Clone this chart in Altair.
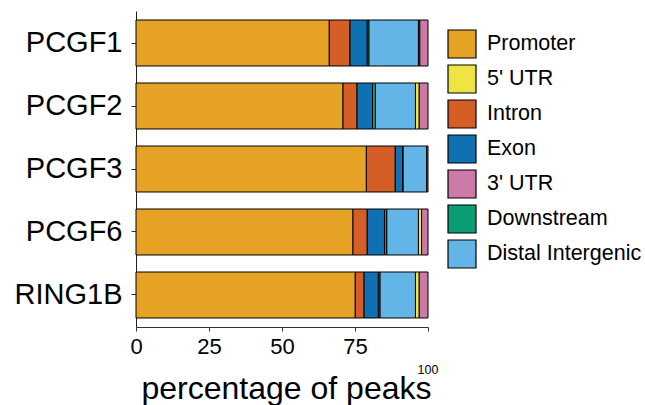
import altair as alt
import pandas as pd

proteins = ["PCGF1", "PCGF2", "PCGF3", "PCGF6", "RING1B"]
features = ["Promoter", "5' UTR", "Intron", "Exon", "3' UTR", "Downstream", "Distal Intergenic"]
colors = ["#E6A225", "#F0E442", "#D55E26", "#0F70B2", "#CC79A7", "#0A9E74", "#63B5E8"]
stack_order = ["Promoter", "Intron", "Exon", "Downstream", "Distal Intergenic", "5' UTR", "3' UTR"]

promoter = [66.2, 70.9, 78.9, 74.3, 75.1]
utr5 = [0.5, 1.3, 0.1, 1.1, 1.3]
intron = [7.1, 4.8, 9.9, 4.9, 3.0]
exon = [5.9, 5.3, 2.5, 5.9, 4.9]
utr3 = [2.8, 3.0, 0.4, 2.2, 3.0]
downstream = [0.6, 1.0, 0.2, 0.8, 0.6]
distal = [16.9, 13.7, 8.0, 10.8, 12.1]

x_ticks = [0, 25, 50, 75, 100]

series = {
    "Promoter": promoter,
    "5' UTR": utr5,
    "Intron": intron,
    "Exon": exon,
    "3' UTR": utr3,
    "Downstream": downstream,
    "Distal Intergenic": distal,
}

rows = []
for f, vals in series.items():
    for p, v in zip(proteins, vals):
        rows.append({"protein": p, "feature": f, "value": v, "ord": stack_order.index(f)})
df = pd.DataFrame(rows)

bars = alt.Chart(df).mark_bar(stroke="black", strokeWidth=1).encode(
    x=alt.X(
        "value:Q",
        stack="zero",
        scale=alt.Scale(domain=[0, 100], nice=False, zero=True),
        axis=alt.Axis(
            values=x_ticks,
            labelExpr="datum.value == 100 ? '' : datum.label",
            title="percentage of peaks",
            titleFontSize=32,
            titleFontWeight="normal",
            titleColor="black",
            titleBaseline="alphabetic",
            titleAnchor="middle",
            titleY=71,
            titleX=150,
            labelFontSize=22,
            labelColor="black",
            labelBaseline="alphabetic",
            labelPadding=22,
            tickSize=4,
            tickColor="#333333",
            domainColor="#333333",
            grid=False,
            labelFlush=False,
        ),
    ),
    y=alt.Y(
        "protein:N",
        sort=proteins,
        scale=alt.Scale(paddingInner=0.27, paddingOuter=0.143),
        axis=alt.Axis(
            title=None,
            labelFontSize=29,
            labelColor="black",
            labelPadding=9,
            tickSize=5,
            tickColor="#333333",
            domainColor="#222222",
        ),
    ),
    color=alt.Color(
        "feature:N",
        scale=alt.Scale(domain=features, range=colors),
        legend=alt.Legend(
            title=None,
            orient="none",
            legendX=311,
            legendY=18,
            symbolType="square",
            symbolSize=784,
            symbolStrokeColor="black",
            symbolStrokeWidth=1.2,
            symbolOpacity=1,
            labelFontSize=21.5,
            labelColor="black",
            labelOffset=10,
            rowPadding=1,
            padding=0,
            labelLimit=300,
        ),
    ),
    order=alt.Order("ord:Q"),
)

label100 = alt.Chart(pd.DataFrame({"value": [x_ticks[-1]]})).mark_text(
    fontSize=12.5, baseline="alphabetic", align="center", color="black"
).encode(
    x=alt.X("value:Q"),
    y=alt.value(363),
    text=alt.Text("value:Q"),
)

chart = alt.layer(bars, label100).properties(
    width=292,
    height=316,
    padding={"left": 136, "top": 11, "right": 217, "bottom": 78},
    autosize=alt.AutoSizeParams(type="none"),
).configure(font="Liberation Sans").configure_view(stroke=None)

chart.save("out.html", embed_options={"renderer": "svg", "actions": False})
